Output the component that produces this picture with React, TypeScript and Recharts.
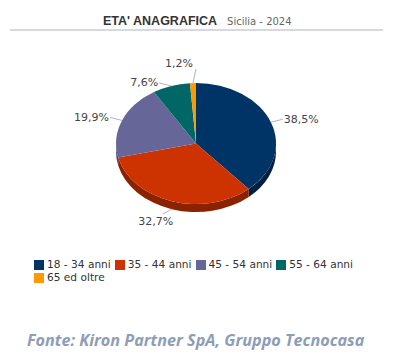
import { Cell, Pie, PieChart } from "recharts";

const categories = ["18 - 34 anni", "35 - 44 anni", "45 - 54 anni", "55 - 64 anni", "65 ed oltre"];
const shares = [38.5, 32.7, 19.9, 7.6, 1.2];
const colors = ["#003366", "#cc3300", "#666699", "#006666", "#ff9900"];
const sideColors = ["#021f40", "#8a2200", "#474770", "#004444", "#a86400"];

const TILT = 0.756;
const DEPTH = 8;
const RAD = Math.PI / 180;

const data = categories.map((name, i) => ({ name, value: shares[i] }));

function fmt(v: number) {
  return v.toFixed(1).replace(".", ",") + "%";
}

// draws the tilted 3D slice (wall + top) and its label from the library's angles
function renderSlice(props: any) {
  const { cx, cy, startAngle, endAngle, outerRadius, midAngle, index } = props;
  const rx = outerRadius;
  const ry = outerRadius * TILT;
  const pt = (a: number, d = 0): [number, number] => [
    cx + (rx + d) * Math.cos(-a * RAD),
    cy + (ry + d) * Math.sin(-a * RAD),
  ];
  const hi = Math.max(startAngle, endAngle);
  const lo = Math.min(startAngle, endAngle);

  // side wall, only the part facing the viewer (angles -180..0)
  let wall = null;
  const wHi = Math.min(hi, 0);
  const wLo = Math.max(lo, -180);
  if (wHi > wLo) {
    const [x1, y1] = pt(wHi);
    const [x2, y2] = pt(wLo);
    const d = `M${x1},${y1} A${rx},${ry} 0 0 1 ${x2},${y2} L${x2},${y2 + DEPTH} A${rx},${ry} 0 0 0 ${x1},${y1 + DEPTH} Z`;
    wall = <path d={d} fill={sideColors[index]} />;
  }

  const [sx, sy] = pt(startAngle);
  const [ex, ey] = pt(endAngle);
  const large = hi - lo > 180 ? 1 : 0;
  const top = `M${cx},${cy} L${sx},${sy} A${rx},${ry} 0 ${large} 1 ${ex},${ey} Z`;

  // label placement
  const c = Math.cos(-midAngle * RAD);
  const s = Math.sin(-midAngle * RAD);
  const [px, py] = pt(midAngle);
  const side = c >= 0 ? 1 : -1;
  let x1 = px, y1 = py, x2, y2, tx, ty, anchor: "start" | "end" | "middle";
  if (s > 0.5) {
    // lower slices: label below the wall
    y1 = py + DEPTH;
    x2 = px + side * 9;
    y2 = y1 + 5;
    tx = px + side * 16;
    ty = y1 + 12;
    anchor = "middle";
  } else if (Math.abs(c) < 0.15) {
    // near the top: label straight above
    x2 = px - side * 3;
    y2 = py - 14;
    tx = px;
    ty = py - 20;
    anchor = side > 0 ? "start" : "end";
  } else {
    x2 = px + side * 12;
    y2 = py - 3;
    tx = x2 + side * 1;
    ty = y2;
    anchor = side > 0 ? "start" : "end";
  }

  return (
    <g key={`slice-${index}`}>
      {wall}
      <path d={top} fill={colors[index]} />
      <path d={`M${x1},${y1} L${x2},${y2}`} stroke="#b0b4c0" strokeWidth={1} fill="none" />
      <text
        x={tx}
        y={ty}
        textAnchor={anchor}
        dominantBaseline="central"
        fontFamily="DejaVu Sans"
        fontSize={11}
        fill="#444"
      >
        {fmt(shares[index])}
      </text>
    </g>
  );
}

export default function App() {
  return (
    <div
      style={{
        position: "absolute",
        left: 0,
        top: 0,
        width: 407,
        height: 361,
        background: "#fff",
        fontFamily: "DejaVu Sans",
      }}
    >
      <div style={{ position: "absolute", left: 103, top: 10, whiteSpace: "nowrap" }}>
        <span style={{ fontFamily: "Liberation Sans", fontWeight: 700, fontSize: 12.5, color: "#333" }}>
          ETA' ANAGRAFICA
        </span>
        <span style={{ fontSize: 10, color: "#666", marginLeft: 10 }}>Sicilia - 2024</span>
      </div>
      <div style={{ position: "absolute", left: 10, top: 29, width: 373, height: 2, background: "#d8d8e0" }} />

      <div style={{ position: "absolute", left: 0, top: 0 }}>
        <PieChart width={407} height={250} margin={{ top: 0, right: 0, bottom: 0, left: 0 }}>
          <Pie
            data={data}
            dataKey="value"
            nameKey="name"
            cx={196}
            cy={143.5}
            outerRadius={80}
            startAngle={90}
            endAngle={-270}
            stroke="none"
            labelLine={false}
            label={renderSlice}
            isAnimationActive={false}
          >
            {data.map((d, i) => (
              <Cell key={d.name} fill={colors[i]} fillOpacity={0} />
            ))}
          </Pie>
        </PieChart>
      </div>

      <div
        style={{
          position: "absolute",
          left: 34,
          top: 258,
          width: 345,
          display: "flex",
          flexWrap: "wrap",
          fontSize: 10.6,
          color: "#333",
          lineHeight: "13px",
        }}
      >
        {categories.map((c, i) => (
          <div key={c} style={{ display: "flex", alignItems: "center", marginRight: 4 }}>
            <span style={{ width: 10, height: 10, background: colors[i], marginRight: 3, display: "inline-block" }} />
            <span>{c}</span>
          </div>
        ))}
      </div>

      <div
        style={{
          position: "absolute",
          left: 27,
          top: 329,
          fontFamily: "Open Sans",
          fontWeight: 700,
          fontStyle: "italic",
          fontSize: 16.2,
          color: "#8e9db6",
          whiteSpace: "nowrap",
        }}
      >
        Fonte: Kiron Partner SpA, Gruppo Tecnocasa
      </div>
    </div>
  );
}
